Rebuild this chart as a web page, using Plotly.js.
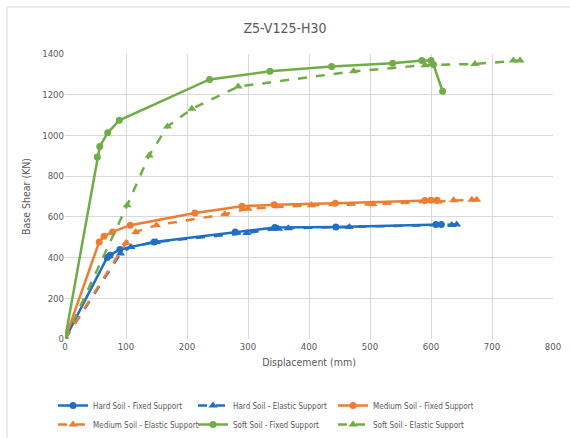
<!DOCTYPE html>
<html>
<head>
<meta charset="utf-8">
<script src="https://cdn.plot.ly/plotly-3.0.1.min.js"></script>
<style>html,body{margin:0;padding:0;background:#fff;}#chart{width:570px;height:438px;}</style>
</head>
<body>
<div id="chart"></div>
<script>
// Hard Soil - Fixed Support
const hardFixedX = [0, 69, 74, 90, 146, 279, 344, 444, 608, 617];
const hardFixedY = [0, 400, 412, 440, 477, 526, 548, 550, 562, 562];
// Hard Soil - Elastic Support
const hardElasticX = [0, 91, 108, 150, 298, 350, 366, 466, 634, 642];
const hardElasticY = [0, 420, 452, 477, 521, 542, 544, 550, 560, 562];
// Medium Soil - Fixed Support
const medFixedX = [0, 56, 64, 78, 107, 213, 290, 343, 443, 590, 600, 610];
const medFixedY = [0, 477, 505, 526, 559, 619, 652, 660, 667, 680, 682, 682];
// Medium Soil - Elastic Support
const medElasticX = [0, 100, 116, 150, 262, 300, 404, 505, 612, 637, 667, 675];
const medElasticY = [0, 472, 526, 559, 613, 640, 657, 662, 676, 681, 684, 684];
// Soft Soil - Fixed Support
const softFixedX = [0, 53, 57, 70, 89, 237, 336, 437, 537, 585, 600, 604, 619];
const softFixedY = [0, 894, 946, 1013, 1074, 1275, 1315, 1338, 1354, 1368, 1368, 1348, 1217];
// Soft Soil - Elastic Support
const softElasticX = [0, 102, 138, 168, 208, 284, 473, 590, 672, 735, 746];
const softElasticY = [0, 657, 902, 1044, 1131, 1240, 1315, 1345, 1351, 1368, 1368];

const names = ['Hard Soil - Fixed Support', 'Hard Soil - Elastic Support',
  'Medium Soil - Fixed Support', 'Medium Soil - Elastic Support',
  'Soft Soil - Fixed Support', 'Soft Soil - Elastic Support'];
const xTicks = [0, 100, 200, 300, 400, 500, 600, 700, 800];
const yTicks = [0, 200, 400, 600, 800, 1000, 1200, 1400];

const BLUE = '#1f6fc5', ORANGE = '#ED7D31', GREEN = '#70AD47';
function tr(x, y, name, color, dashed) {
  return {
    x: x, y: y, name: name, type: 'scatter', mode: 'lines+markers',
    line: {color: color, width: 2.5, dash: dashed ? 'dash' : 'solid'},
    marker: {color: color, size: dashed ? 8 : 7, symbol: dashed ? 'triangle-up' : 'circle'}
  };
}
const data = [
  tr(hardFixedX, hardFixedY, names[0], BLUE, false),
  tr(hardElasticX, hardElasticY, names[1], BLUE, true),
  tr(medFixedX, medFixedY, names[2], ORANGE, false),
  tr(medElasticX, medElasticY, names[3], ORANGE, true),
  tr(softFixedX, softFixedY, names[4], GREEN, false),
  tr(softElasticX, softElasticY, names[5], GREEN, true)
];
const F = '"Liberation Sans Narrow", "Arial Narrow", "DejaVu Sans Condensed", Lato, sans-serif';
const layout = {
  width: 570, height: 438,
  margin: {l: 65, r: 17, t: 54, b: 99},
  paper_bgcolor: '#fff', plot_bgcolor: '#fff',
  font: {family: F, color: '#595959', size: 10},
  title: {text: 'Z5-V125-H30', font: {family: F, size: 14, color: '#595959'}, x: 0.5, xanchor: 'center', y: 0.935, yanchor: 'middle'},
  xaxis: {
    range: [0, 800], tickvals: xTicks, ticktext: xTicks.map(String),
    showgrid: true, gridcolor: '#d9d9d9', gridwidth: 1, zeroline: false,
    showline: false, ticks: '', tickfont: {size: 9.5, color: '#595959'},
    title: {text: 'Displacement (mm)', font: {size: 10.5, color: '#595959'}, standoff: 8}
  },
  yaxis: {
    range: [0, 1400], tickvals: yTicks, ticktext: yTicks.map(String),
    showgrid: true, gridcolor: '#d9d9d9', gridwidth: 1, zeroline: false,
    showline: false, ticks: '', tickfont: {size: 9.5, color: '#595959'},
    title: {text: 'Base Shear (KN)', font: {size: 10.5, color: '#595959'}, standoff: 9}
  },
  showlegend: true,
  legend: {
    orientation: 'h', xref: 'container', x: 53 / 570, xanchor: 'left',
    yref: 'container', y: 1 - 391 / 438, yanchor: 'top',
    entrywidth: 95, entrywidthmode: 'pixels',
    font: {size: 8, color: '#595959'}, itemwidth: 30, tracegroupgap: 0
  },
  shapes: [{
    type: 'rect', xref: 'paper', yref: 'paper',
    x0: (7 - 65) / 488, x1: 1.2, y0: -0.5, y1: (339 - 7) / 285,
    line: {color: '#d9d9d9', width: 1}, fillcolor: 'rgba(0,0,0,0)', layer: 'below'
  }]
};
Plotly.newPlot('chart', data, layout, {displayModeBar: false, staticPlot: true});
</script>
</body>
</html>
